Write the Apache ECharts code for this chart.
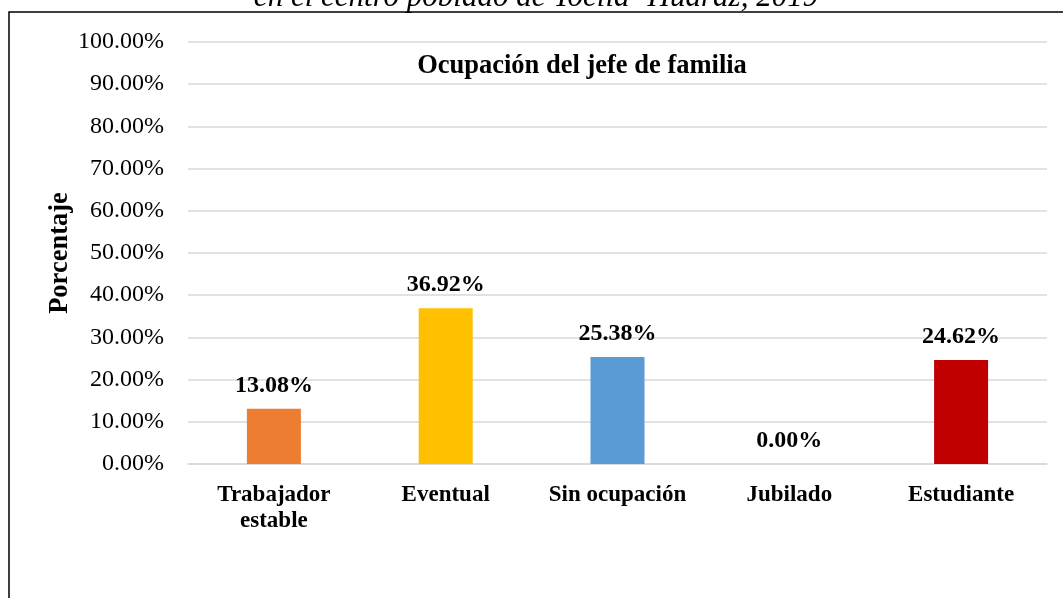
<!DOCTYPE html>
<html>
<head>
<meta charset="utf-8">
<script src="https://cdn.jsdelivr.net/npm/echarts@6/dist/echarts.min.js"></script>
<style>
  html, body { margin: 0; padding: 0; background: #fff; }
  #chart { width: 1063px; height: 598px; }
</style>
</head>
<body>
<div id="chart"></div>
<script>
// datos del grafico
var categorias = ['Trabajador\nestable', 'Eventual', 'Sin ocupación', 'Jubilado', 'Estudiante'];
var porcentajes = [13.08, 36.92, 25.38, 0.00, 24.62];
var colores = ['#ED7D31', '#FFC000', '#5B9BD5', '#A5A5A5', '#C00000'];

var fuente = '"Liberation Serif", "Times New Roman", serif';

var myChart = echarts.init(document.getElementById('chart'));

var option = {
  backgroundColor: '#fff',
  animation: false,
  title: {
    text: 'Ocupación del jefe de familia',
    left: 577,
    top: 48,
    textAlign: 'center',
    textStyle: { fontFamily: fuente, fontSize: 26.5, fontWeight: 'bold', color: '#000' }
  },
  graphic: [
    {
      type: 'rect',
      shape: { x: 9, y: 12, width: 1100, height: 620 },
      style: { fill: 'none', stroke: '#000', lineWidth: 1.5 },
      z: 100
    },
    {
      // titulo de la figura, cortado arriba
      type: 'text',
      x: 536,
      y: -18,
      style: {
        text: 'en el centro poblado de Tocllá -Huaraz, 2019',
        font: 'italic 31px ' + fuente,
        fill: '#000',
        align: 'center',
        verticalAlign: 'top'
      }
    }
  ],
  grid: { left: 188, right: 16, top: 42, bottom: 134 },
  xAxis: {
    type: 'category',
    data: categorias,
    axisLine: { show: true, lineStyle: { color: '#D9D9D9', width: 1.5 } },
    axisTick: { show: false },
    axisLabel: {
      interval: 0,
      margin: 18,
      fontFamily: fuente,
      fontSize: 23,
      fontWeight: 'bold',
      color: '#000',
      lineHeight: 26
    }
  },
  yAxis: {
    type: 'value',
    min: 0,
    max: 100,
    interval: 10,
    name: 'Porcentaje',
    nameLocation: 'middle',
    nameGap: 114,
    nameMoveOverlap: false,
    nameTextStyle: { fontFamily: fuente, fontSize: 26.5, fontWeight: 'bold', color: '#000' },
    axisLine: { show: false },
    axisTick: { show: false },
    splitLine: { lineStyle: { color: '#D9D9D9', width: 1.5 } },
    axisLabel: {
      margin: 24,
      fontFamily: fuente,
      fontSize: 24,
      color: '#000',
      formatter: function (v) { return v.toFixed(2) + '%'; }
    }
  },
  series: [{
    type: 'bar',
    barWidth: 54,
    data: porcentajes.map(function (v, i) {
      return { value: v, itemStyle: { color: colores[i] } };
    }),
    label: {
      show: true,
      position: 'top',
      distance: 11,
      fontFamily: fuente,
      fontSize: 24,
      fontWeight: 'bold',
      color: '#000',
      formatter: function (p) { return p.value.toFixed(2) + '%'; }
    }
  }]
};

myChart.setOption(option);
</script>
</body>
</html>
